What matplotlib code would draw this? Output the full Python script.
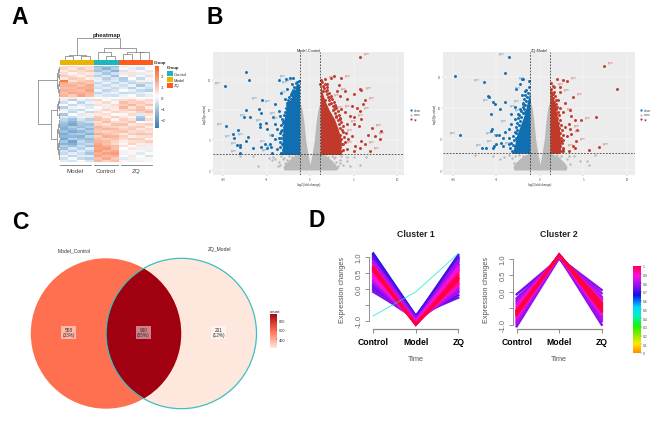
#!/usr/bin/env python
"""Four panel figure: heatmap, two volcano plots, venn diagram and expression clusters."""

import matplotlib

matplotlib.use("Agg")
import matplotlib.pyplot as plt
import numpy as np
from matplotlib.colors import LinearSegmentedColormap, Normalize
from matplotlib.patches import Circle, Rectangle

W, H = 669, 431

# panel A
GROUPS = ["Model", "Control", "ZQ"]
GROUP_SIZES = [4, 3, 4]
GROUP_COLORS = ["#E8B400", "#1FB5BE", "#FF5A1E"]
HEAT_TICKS = [2, 1, 0, -1, -2]
HEAT = [
    [0.5, 0.8, 0.3, 0.6, -1.4, -1.0, -1.3, -0.3, 0.2, -0.2, 0.1],
    [0.7, 0.4, 0.9, 0.5, -1.0, -1.5, -0.9, 0.2, -0.3, -0.6, 0.0],
    [0.3, 0.7, 0.6, 0.9, -1.2, -0.8, -1.5, -0.5, 0.3, 0.1, -0.4],
    [0.6, 0.2, 0.5, 0.4, -0.5, -1.1, -0.6, 0.4, 0.5, -0.3, 0.3],
    [0.9, 0.6, 0.2, 0.7, -0.9, -0.4, -1.2, -0.1, -0.4, 0.2, -0.5],
    [0.4, 0.9, 0.7, 0.3, -0.3, -0.9, -0.5, -1.0, 0.1, -0.7, 0.2],
    [2.3, 0.5, 0.8, 1.0, -0.2, -0.6, -0.4, -0.9, -0.5, 0.3, -0.2],
    [1.4, 1.0, 1.2, 0.9, -0.7, -0.2, -0.8, -0.3, -0.8, -0.6, -0.7],
    [1.2, 1.3, 1.0, 1.4, -0.4, -0.7, -0.3, -0.6, -0.2, -1.1, -0.4],
    [1.1, 1.1, 1.4, 1.3, -0.6, -0.3, -0.7, -0.4, -0.9, -0.2, -0.6],
    [1.3, 1.2, 1.1, 1.5, -0.2, -0.8, -0.5, 0.1, -0.3, -0.7, -0.9],
    [1.0, 1.4, 1.3, 1.2, -0.8, -0.4, -0.2, -0.7, -0.6, -0.4, -0.1],
    [1.2, 0.9, 1.5, 1.1, -0.3, -0.5, -0.6, -0.2, 0.1, -0.5, -0.3],
    [0.3, 0.4, 0.1, 0.2, 0.0, 0.2, 0.1, -0.1, 0.2, 0.0, 0.1],
    [-0.3, -0.9, -0.2, -0.5, 0.7, 0.1, -0.4, 0.6, 0.8, 0.4, 0.7],
    [-0.6, 0.1, -0.8, -0.2, 0.3, 0.6, 0.2, 1.1, 0.7, 0.9, 0.5],
    [0.1, -0.7, -0.3, -0.6, 0.5, -0.2, 0.6, 0.9, 1.2, 0.6, 1.0],
    [-0.9, -0.2, 0.2, -0.4, 0.1, 0.4, 0.4, 1.2, 0.5, 1.0, 0.3],
    [-0.2, -0.5, -0.7, 0.1, -0.2, 0.7, 0.3, 0.7, 0.9, 1.1, 0.8],
    [0.2, -0.8, -0.1, -0.7, 0.6, 0.2, 0.7, 0.5, 0.3, 0.8, 1.2],
    [-1.1, 0.0, -0.4, 0.3, 0.4, 0.5, 0.0, 0.2, 0.6, -0.4, 0.5],
    [-0.4, -0.6, 0.3, -0.3, 0.9, 0.3, 0.8, 0.4, -0.1, -1.0, 0.2],
    [-0.8, -1.2, -0.5, -0.9, 1.0, 0.8, 0.2, 0.8, 0.5, -1.3, 0.6],
    [-1.0, -1.5, -0.9, -0.6, 0.5, 1.1, 0.6, 0.6, 1.0, 0.1, 0.2],
    [-1.3, -1.8, -1.1, -1.2, 0.7, 0.5, 1.0, 1.0, 0.4, 0.6, 0.8],
    [-1.5, -1.0, -1.3, -0.9, 1.2, 0.9, 0.7, 0.5, 0.8, 0.9, 0.3],
    [-1.6, -1.3, -0.8, -1.4, 1.0, 1.2, 1.1, 0.7, 0.9, 0.4, 0.7],
    [-1.2, -1.7, -1.4, -1.0, 0.9, 0.7, 0.9, 1.0, 0.6, 0.7, 0.5],
    [-1.7, -1.1, -1.0, -1.5, 1.3, 1.0, 0.8, 0.4, 0.8, 1.0, 0.9],
    [-1.4, -1.4, -1.5, -0.8, 0.8, 1.3, 1.2, 0.8, 0.3, 0.5, 0.6],
    [-1.8, -0.9, -1.2, -1.3, 1.1, 0.8, 1.0, 0.6, 0.9, 0.8, 0.2],
    [-1.1, -1.9, -0.7, -1.1, 1.2, 1.1, 0.7, 0.3, 0.5, 0.6, 0.8],
    [-1.5, -1.6, -1.0, -0.7, 1.4, 1.0, 0.6, 0.2, 0.7, 0.3, 0.4],
    [-0.9, -1.2, -0.6, -1.2, 1.6, 1.3, 1.1, 0.5, 0.1, 0.4, -0.2],
    [-1.2, -0.5, -0.9, -0.4, 1.5, 1.6, 1.0, 0.0, 0.4, -0.2, 0.3],
    [-0.5, -1.0, -0.3, -0.8, 1.7, 1.2, 1.4, 0.3, -0.1, 0.2, -0.3],
    [-0.7, -0.3, -0.6, -1.1, 1.3, 1.5, 1.6, -0.2, 0.2, -0.4, 0.1],
    [-0.2, -0.8, -0.4, -0.3, 1.5, 1.1, 1.3, 0.1, -0.3, 0.0, -0.5],
    [-0.6, -0.1, -0.7, -0.9, 1.0, 1.4, 0.9, -0.4, 0.3, -0.1, 0.2],
    [-0.3, -0.5, 0.1, -0.5, 1.2, 0.8, 1.1, 0.2, -0.2, 0.3, -0.1],
]
# (left, right, left height, right height, top height) in column units
COL_TREE = [
    (0.5, 1.5, 0, 0, 10), (2.5, 3.5, 0, 0, 11), (1.0, 3.0, 10, 11, 15),
    (5.5, 6.5, 0, 0, 12), (4.5, 6.0, 0, 12, 22),
    (7.5, 8.5, 0, 0, 18), (9.5, 10.5, 0, 0, 22), (8.0, 10.0, 18, 22, 24),
    (5.25, 9.0, 22, 24, 34), (2.0, 7.125, 15, 34, 65),
]
# same idea in row units, heights grow to the left
ROW_TREE = [
    (0.5, 2.5, 2, 2, 5), (3.5, 5.5, 2, 2, 4), (1.5, 4.5, 5, 4, 7), (6.5, 8.5, 2, 2, 4),
    (9.5, 12.5, 2, 2, 4), (7.5, 11.0, 4, 4, 6), (3.0, 9.25, 7, 6, 9),
    (13.5, 15.5, 2, 2, 5), (16.5, 18.5, 2, 2, 4), (14.5, 17.5, 5, 4, 7),
    (19.5, 21.5, 2, 2, 5), (16.0, 20.5, 7, 5, 10),
    (22.5, 25.5, 2, 2, 5), (26.5, 29.5, 2, 2, 5), (24.0, 28.0, 5, 5, 7),
    (30.5, 33.5, 2, 2, 4), (34.5, 38.5, 2, 2, 4), (32.0, 36.5, 4, 4, 7),
    (26.0, 34.25, 7, 7, 11), (18.25, 30.1, 10, 11, 26),
    (6.1, 24.2, 9, 26, 66),
]

# panel B, left volcano
BLUE1_X = [-9.8, -7.4, -7.0, -9.6, -8.3, -8.9, -8.7, -7.4, -7.6, -6.9, -5.9, -5.6, -5.5, -5.8, -5.8, -5.1, -4.9, -4.4, -7.1, -7.4, -8.4, -8.0, -8.1, -6.6, -8.0, -5.6, -5.2, -4.6, -4.5, -5.0, -4.4, -3.6, -2.8, -2.3, -3.3, -2.9, -4.0, -3.6, -4.2, -3.5, -4.0, -3.8, -3.6, -4.0, -3.5, -3.8, -3.3, -2.7, -2.1, -1.9, -2.5, -3.1, -3.3, -2.9, -2.2, -1.8, -2.4, -1.5]
BLUE1_Y = [14.0, 16.4, 15.0, 7.3, 6.7, 6.0, 5.3, 10.0, 8.8, 8.8, 10.1, 9.5, 11.6, 7.7, 7.1, 7.9, 6.8, 5.8, 5.5, 4.9, 4.2, 4.1, 3.8, 3.7, 2.8, 3.9, 4.4, 4.4, 3.8, 3.7, 2.9, 15.0, 15.2, 15.3, 12.9, 11.8, 11.0, 9.9, 8.8, 9.0, 7.7, 6.8, 5.4, 5.1, 4.6, 3.5, 2.9, 13.5, 14.3, 15.4, 10.7, 8.2, 6.5, 4.3, 12.6, 13.2, 11.4, 14.6]
BLUE1_FILL_X = [-3.3, -3.1, -3.4, -3.2, -3.0, -3.3, -3.1, -3.4, -3.2, -3.0, -3.3, -3.1, -2.9, -3.2, -2.8, -3.0, -2.7, -2.9, -2.6, -2.8, -2.5, -2.7, -2.4, -2.6, -2.3, -2.5, -2.2, -2.4, -2.0, -2.2, -1.9, -2.1, -1.7, -1.9, -1.6, -1.8, -1.5, -1.4, -1.6, -1.3]
BLUE1_FILL_Y = [2.9, 3.4, 3.9, 4.4, 4.9, 5.3, 5.8, 6.2, 6.7, 7.1, 7.5, 7.9, 8.2, 8.5, 8.8, 9.1, 9.4, 9.7, 10.0, 10.3, 10.5, 10.8, 11.0, 11.2, 11.4, 11.7, 11.9, 12.1, 12.3, 12.5, 12.8, 13.0, 13.2, 13.4, 13.6, 13.8, 14.0, 14.2, 14.5, 14.8]
RED1_X = [5.7, 2.8, 2.4, 1.7, 1.2, 2.0, 3.6, 3.3, 1.5, 3.1, 4.0, 5.7, 5.9, 5.0, 3.4, 2.3, 1.7, 4.2, 6.3, 6.1, 2.9, 3.6, 4.8, 5.4, 5.7, 4.0, 4.6, 5.0, 5.9, 3.4, 4.2, 5.0, 5.6, 7.1, 8.1, 6.7, 7.5, 8.0, 5.9, 6.3, 4.8, 4.4, 3.8, 5.2, 5.7, 6.9, 5.0, 4.2, 3.8, 3.6, 3.3, 2.6, 2.2, 3.0]
RED1_Y = [18.9, 15.7, 15.3, 15.1, 14.4, 14.4, 15.3, 14.1, 13.2, 13.1, 13.1, 13.5, 13.3, 12.7, 12.4, 12.1, 11.6, 11.8, 11.6, 11.0, 10.7, 10.2, 10.6, 10.4, 9.9, 9.6, 9.0, 8.8, 8.5, 8.5, 7.7, 7.7, 7.4, 7.0, 6.5, 5.9, 5.7, 5.2, 4.8, 4.3, 5.7, 5.2, 6.3, 4.0, 3.6, 3.2, 3.2, 3.5, 4.3, 3.2, 2.9, 10.0, 11.0, 9.0]
RED1_FILL_X = [3.5, 3.8, 3.4, 3.7, 4.0, 3.6, 3.9, 3.5, 4.1, 3.7, 3.4, 3.8, 3.3, 3.6, 3.2, 3.5, 3.0, 3.3, 2.9, 3.2, 2.7, 3.0, 2.6, 2.9, 2.4, 2.7, 2.2, 2.5, 2.1, 2.4, 1.9, 2.2, 1.8, 2.0, 1.6, 1.9, 1.5, 1.7, 1.4, 1.3]
RED1_FILL_Y = [2.9, 3.4, 3.8, 4.3, 4.7, 5.1, 5.5, 5.9, 6.2, 6.6, 7.0, 7.3, 7.7, 8.0, 8.3, 8.6, 8.9, 9.2, 9.5, 9.8, 10.1, 10.4, 10.7, 10.9, 11.2, 11.4, 11.7, 11.9, 12.2, 12.4, 12.7, 12.9, 13.1, 13.4, 13.6, 13.8, 14.0, 14.3, 14.6, 15.0]
GRAY1_X = [-8.0, -6.5, -6.0, -4.7, -4.4, -4.0, -3.6, -3.4, -3.1, -2.8, -4.3, -3.3, -2.9, 2.7, 3.0, 3.4, 3.8, 4.2, 4.6, 5.1, 5.8, 6.4, 3.1, 3.6, 4.3, -3.0, -2.6, -3.7, -2.4, 2.9, 3.2, 3.5, 2.5, -1.7, -2.1, 1.7, 2.1]
GRAY1_Y = [2.3, 2.4, 0.7, 2.0, 1.6, 1.9, 1.4, 0.9, 1.8, 0.6, 2.2, 2.3, 1.2, 2.0, 1.3, 1.7, 0.9, 1.5, 0.6, 2.1, 0.8, 2.2, 0.4, 2.3, 2.2, 2.0, 1.7, 0.6, 2.3, 2.2, 0.7, 1.1, 2.3, 2.4, 2.1, 2.4, 2.2]
DENSE1_Y = [2.6, 5.0, 7.0, 8.5, 10.0, 11.6, 13.0, 14.2]
BLUE1_EDGE = [-3.2, -3.2, -3.1, -3.0, -2.7, -2.3, -1.8, -1.4]
RED1_EDGE = [3.5, 3.6, 3.2, 2.8, 2.2, 1.7, 1.4, 1.25]

# panel B, right volcano
BLUE2_X = [-3.6, -9.7, -4.0, -6.4, -6.0, -5.8, -5.4, -5.2, -5.6, -9.2, -5.5, -5.6, -5.1, -4.7, -6.7, -6.2, -5.3, -5.4, -5.0, -4.5, -4.3, -4.2, -4.0, -3.6, -3.3, -3.5, -3.6, -2.9, -2.9, -3.3, -2.3, -2.1, -1.9, -1.3, -2.3, -2.7, -1.7, -2.1, -1.3, -1.9, -2.5, -2.9, -1.7, -4.6, -4.0]
BLUE2_Y = [18.2, 15.2, 15.7, 14.1, 11.9, 11.7, 10.9, 10.6, 9.0, 5.6, 6.6, 6.3, 5.6, 5.6, 3.5, 3.6, 3.9, 3.5, 4.2, 4.4, 3.8, 5.2, 6.2, 6.6, 7.4, 5.2, 4.2, 3.9, 10.1, 9.0, 9.9, 14.7, 14.6, 14.4, 13.8, 13.0, 12.8, 12.0, 11.1, 10.6, 9.0, 8.2, 9.3, 9.8, 10.9]
BLUE2_FILL_X = [-3.2, -3.4, -3.1, -3.3, -3.0, -2.8, -3.1, -2.7, -2.9, -2.6, -2.8, -2.4, -2.6, -2.3, -2.5, -2.2, -2.4, -2.0, -2.2, -1.8, -2.0, -1.7, -1.9, -1.6, -1.8, -1.5, -1.7, -1.4, -1.6, -1.3]
BLUE2_FILL_Y = [3.0, 3.5, 4.0, 4.4, 4.8, 5.2, 5.5, 5.9, 6.2, 6.5, 6.9, 7.2, 7.6, 7.9, 8.3, 8.6, 8.9, 9.2, 9.5, 9.9, 10.2, 10.4, 10.8, 11.1, 11.4, 11.7, 12.0, 12.4, 12.9, 13.4]
RED2_X = [7.3, 8.9, 6.4, 6.8, 5.6, 2.6, 3.1, 2.0, 2.3, 3.8, 2.9, 3.4, 4.7, 4.0, 3.6, 4.1, 3.8, 4.0, 3.6, 3.1, 4.2, 3.4, 2.9, 3.3, 2.7, 3.3, 2.7, 2.3, 1.5, 2.4, 1.6, 1.3, 2.1, 2.6, 2.3]
RED2_Y = [16.8, 13.1, 8.5, 3.7, 3.3, 14.5, 14.3, 14.7, 13.3, 11.8, 10.8, 9.7, 8.0, 8.1, 8.7, 4.6, 3.8, 3.5, 5.8, 5.5, 6.4, 6.6, 6.9, 7.4, 3.6, 3.1, 3.1, 12.5, 12.3, 4.7, 13.4, 12.6, 11.2, 9.4, 10.0]
RED2_FILL_X = [2.4, 2.6, 2.3, 2.5, 2.7, 2.4, 2.6, 2.3, 2.5, 2.2, 2.4, 2.1, 2.3, 2.0, 2.2, 1.9, 2.1, 1.8, 2.0, 1.7, 1.9, 1.6, 1.8, 1.5, 1.7, 1.4, 1.6, 1.3, 1.5, 1.3]
RED2_FILL_Y = [3.0, 3.4, 3.9, 4.3, 4.8, 5.2, 5.6, 6.0, 6.4, 6.8, 7.2, 7.6, 8.0, 8.4, 8.8, 9.1, 9.4, 9.8, 10.1, 10.4, 10.7, 11.0, 11.3, 11.6, 11.9, 12.2, 12.6, 13.0, 13.5, 14.0]
GRAY2_X = [-7.5, -5.4, -4.6, -3.6, -3.0, -2.6, -2.2, -4.1, -3.2, 2.2, 2.7, 3.1, 3.5, 3.9, 4.6, 5.4, 5.6, 6.3, 2.6, 3.3, -2.9, -2.4, -1.9, 2.0, 2.4, 2.9, 1.8]
GRAY2_Y = [2.4, 2.3, 1.7, 2.4, 1.1, 0.8, 1.6, 2.1, 1.9, 2.0, 1.2, 1.8, 0.9, 2.2, 1.4, 1.5, 0.8, 2.4, 0.5, 2.3, 2.2, 2.4, 2.2, 2.4, 2.2, 0.6, 2.1]
DENSE2_Y = [2.7, 4.0, 5.5, 7.0, 8.5, 10.0, 11.2, 12.4]
BLUE2_EDGE = [-3.2, -2.9, -2.7, -2.3, -1.9, -1.6, -1.4, -1.2]
RED2_EDGE = [2.3, 2.4, 2.3, 2.2, 2.0, 1.8, 1.6, 1.35]

# gray cloud, shared shape values
GRAY_LOW_Y = [0.0, 0.5, 1.0, 1.6, 2.2, 2.7]
GRAY_LOW_EDGE = [3.0, 3.1, 2.9, 2.5, 2.0, 1.3]
GAP_Y = [0.9, 2.7, 5.0, 8.0, 10.0, 11.2]
GAP_EDGE = [0.0, 0.25, 0.5, 0.7, 0.9, 1.15]
VOLCANO_LEGEND = ["down", "none", "up"]
VOLCANO_COLORS = ["#0F6FB0", "#B9B9B9", "#C0392B"]

# panel C
SET_NAMES = ["Model_Control", "ZQ_Model"]
VENN_COUNTS = [558, 930, 201]
VENN_PCT = ["33%", "55%", "12%"]
COUNT_TICKS = [800, 600, 400]

# panel D
TIME = ["Control", "Model", "ZQ"]
C1_CONTROL = [1.10, 1.07, 1.04, 1.0, 0.97, 0.93, 0.90, 0.1, 0.06, 0.02, -0.02, -0.06, -0.1, 0.22, 0.18, 0.14, 0.86, 0.82, 0.78, 0.74, 0.26, 0.3, 0.34, 0.38, 0.42, 0.46, 0.7, 0.66, 0.5, 0.54, 0.62, 0.58, 0.56, 0.6, 0.64, 0.68]
C1_MODEL = [-0.85, -0.88, -0.86, -0.9, -0.92, -0.95, -0.9, -0.88, -0.9, -0.92, -0.85, -0.95, -0.9, -0.98, -1.0, -1.0, -0.95, -1.0, -1.02, -1.0, -1.05, -1.03, -1.05, -1.07, -1.05, -1.08, -1.08, -1.1, -1.08, -1.1, -1.12, -1.12, -1.1, -1.13, -1.1, -1.12]
C1_ZQ = [0.85, 1.05, 0.6, 0.95, 0.7, 1.0, 0.9, 0.95, 0.75, -0.2, -0.28, 0.0, -0.12, 0.8, -0.1, 0.9, 0.6, 0.75, -0.05, 0.65, 0.05, 0.7, 0.1, 0.55, 0.15, 0.6, 0.55, 0.15, 0.5, 0.2, 0.45, 0.25, 0.35, 0.4, 0.3, 0.32]
C1_MEMBER = [0.66, 0.68, 0.70, 0.70, 0.72, 0.72, 0.74, 0.70, 0.72, 0.72, 0.74, 0.74, 0.76, 0.76, 0.78, 0.78, 0.80, 0.80, 0.80, 0.82, 0.84, 0.85, 0.86, 0.87, 0.88, 0.88, 0.89, 0.90, 0.92, 0.94, 0.96, 0.97, 0.98, 0.99, 1.0, 1.0]
C1_OUTLIER = [-0.85, -0.1, 1.1]
C1_OUTLIER_MEMBER = 0.45

C2_CONTROL = [-0.08, -0.2, -1.05, -1.0, -0.95, -0.25, -0.3, -0.92, -0.88, -0.35, -0.85, -0.4, -0.8, -0.45, -0.78, -0.5, -0.75, -0.72, -0.55, -0.7, -0.58, -0.68, -0.6, -0.65, -0.62, -0.66, -0.6, -0.56, -0.7]
C2_MODEL = [1.0, 1.02, 1.02, 1.05, 1.03, 1.05, 1.04, 1.06, 1.05, 1.07, 1.06, 1.08, 1.08, 1.08, 1.09, 1.09, 1.1, 1.1, 1.1, 1.1, 1.11, 1.11, 1.12, 1.12, 1.12, 1.1, 1.11, 1.1, 1.12]
C2_ZQ = [-0.2, 0.05, -0.75, -1.0, -0.85, -0.05, -0.9, -0.15, -0.8, -0.75, -0.22, -0.7, -0.25, -0.65, -0.3, -0.62, -0.58, -0.35, -0.55, -0.4, -0.52, -0.42, -0.5, -0.44, -0.47, -0.6, -0.38, -0.56, -0.34]
C2_MEMBER = [0.74, 0.76, 0.76, 0.76, 0.78, 0.78, 0.78, 0.80, 0.80, 0.82, 0.82, 0.84, 0.84, 0.86, 0.86, 0.88, 0.90, 0.90, 0.92, 0.94, 0.95, 0.96, 0.98, 0.99, 1.0, 1.0, 1.0, 1.0, 1.0]
MEMBER_TICKS = [1, 0.9, 0.8, 0.7, 0.6, 0.5, 0.4, 0.3, 0.2, 0.1, 0]

plt.rcParams["font.family"] = ["Liberation Sans", "DejaVu Sans"]
plt.rcParams["axes.linewidth"] = 0.5

HEAT_CMAP = LinearSegmentedColormap.from_list("heat", ["#3D7DB5", "#8FB8DA", "#FFFFFF", "#F9A688", "#FF5A1E"])
VENN_CMAP = LinearSegmentedColormap.from_list("venn", [(0, "#FEE8DE"), (0.49, "#FF7050"), (1, "#A00010")])
MEMBER_CMAP = LinearSegmentedColormap.from_list(
    "member",
    [(0, "#FF8C00"), (0.1, "#FFE800"), (0.3, "#22F000"), (0.42, "#00F0C0"), (0.52, "#00D8FF"),
     (0.66, "#1010E8"), (0.76, "#8A10F0"), (0.88, "#FF10E0"), (1, "#FF0040")],
)


def px_axes(fig, x0, y0, x1, y1):
    return fig.add_axes([x0 / W, 1 - y1 / H, (x1 - x0) / W, (y1 - y0) / H])


def draw_tree(axis, merges, vertical, color="#777777", lw=0.5):
    for left, right, h_left, h_right, top in merges:
        pos = [left, left, right, right]
        height = [h_left, top, top, h_right]
        if vertical:
            axis.plot(pos, height, color=color, lw=lw, solid_capstyle="butt")
        else:
            axis.plot(height, pos, color=color, lw=lw, solid_capstyle="butt")


def plot_heatmap(fig):
    data = np.array(HEAT)
    n_rows, n_cols = data.shape
    ax = px_axes(fig, 60.3, 66.7, 152.7, 163.5)
    ax.imshow(data, cmap=HEAT_CMAP, vmin=-2.85, vmax=2.9, aspect="auto", interpolation="nearest",
              extent=(0, n_cols, n_rows, 0))
    ax.axis("off")

    bar = px_axes(fig, 60.3, 61, 152.7, 65.6)
    start = 0
    bar.set_xlim(0, n_cols)
    bar.set_ylim(0, 1)
    for size, color in zip(GROUP_SIZES, GROUP_COLORS):
        bar.add_patch(Rectangle((start, 0), size, 1, color=color, lw=0))
        start += size
    bar.axis("off")

    top = px_axes(fig, 60.3, 38.5, 152.7, 60.5)
    draw_tree(top, COL_TREE, True)
    top.set_xlim(0, n_cols)
    top.set_ylim(0, 66)
    top.axis("off")

    side = px_axes(fig, 37.5, 66.7, 60.3, 163.5)
    draw_tree(side, ROW_TREE, False)
    for row in range(n_rows):
        side.plot([0, 2], [row + 0.5, row + 0.5], color="#444444", lw=0.5)
    side.set_xlim(67, 0)
    side.set_ylim(n_rows, 0)
    side.axis("off")

    cbar = px_axes(fig, 155, 66.7, 158.7, 129.3)
    gradient = np.linspace(2.9, -2.85, 128).reshape(-1, 1)
    cbar.imshow(gradient, cmap=HEAT_CMAP, vmin=-2.85, vmax=2.9, aspect="auto", extent=(0, 1, -2.85, 2.9))
    cbar.set_xticks([])
    cbar.yaxis.tick_right()
    cbar.set_yticks(HEAT_TICKS, [str(t).replace("-", "\u2212") for t in HEAT_TICKS])
    cbar.tick_params(length=0, labelsize=3.2, pad=1.5, labelcolor="#333333")
    for spine in cbar.spines.values():
        spine.set_visible(False)


def plot_volcano(fig, box, title, blue, red, blue_fill, red_fill, gray, dense_y, edges, thresh, vline, xlim, ylim):
    ax = px_axes(fig, *box)
    ax.set_facecolor("#ECECEC")
    ax.set_xlim(*xlim)
    ax.set_ylim(*ylim)
    ax.grid(color="white", lw=0.3)
    ax.set_axisbelow(True)

    # gray cloud first, the coloured sets sit on top of it
    gray_color, blue_color, red_color = VOLCANO_COLORS[1], VOLCANO_COLORS[0], VOLCANO_COLORS[2]
    low_y = np.array(GRAY_LOW_Y)
    low_x = np.array(GRAY_LOW_EDGE)
    ax.fill_betweenx(low_y, -low_x, low_x, color=gray_color, lw=0)
    gap_x = np.array(GAP_EDGE)
    ax.fill_betweenx(GAP_Y, -vline, -gap_x, color=gray_color, lw=0)
    ax.fill_betweenx(GAP_Y, gap_x, vline, color=gray_color, lw=0)
    ax.fill_betweenx(GAP_Y[:2], -gap_x[:2], gap_x[:2], color="#ECECEC", lw=0)
    ax.scatter(gray[0], gray[1], s=3, color=gray_color, lw=0)

    ax.fill_betweenx(dense_y, edges[0], -vline, color=blue_color, lw=0)
    ax.fill_betweenx(dense_y, vline, edges[1], color=red_color, lw=0)
    ax.scatter(blue_fill[0], blue_fill[1], s=4.5, color=blue_color, lw=0)
    ax.scatter(red_fill[0], red_fill[1], s=4.5, color=red_color, lw=0)
    ax.scatter(blue[0], blue[1], s=4.5, color=blue_color, lw=0)
    ax.scatter(red[0], red[1], s=4.5, color=red_color, lw=0)

    # tiny gene tags, unreadable in the reference
    for x, y in list(zip(blue[0], blue[1]))[::3]:
        ax.annotate("gene", (x, y), xytext=(x - 0.8, y + 0.6), fontsize=1.9, color="#5A9BC8",
                    ha="center", va="center",
                    arrowprops=dict(arrowstyle="-", color="#999999", lw=0.2))
    for x, y in list(zip(red[0], red[1]))[::3]:
        ax.annotate("gene", (x, y), xytext=(x + 0.8, y + 0.6), fontsize=1.9, color="#D0705F",
                    ha="center", va="center",
                    arrowprops=dict(arrowstyle="-", color="#999999", lw=0.2))

    ax.axhline(thresh, color="#222222", ls=(0, (2.5, 2)), lw=0.5)
    ax.axvline(-vline, color="#222222", ls=(0, (2.5, 2)), lw=0.5)
    ax.axvline(vline, color="#222222", ls=(0, (2.5, 2)), lw=0.5)
    ax.set_xticks([-10, -5, 0, 5, 10])
    ax.set_yticks([0, 5, 10, 15])
    ax.tick_params(length=0.8, width=0.25, labelsize=2, pad=0.8, color="#666666", labelcolor="#555555")
    for spine in ax.spines.values():
        spine.set_visible(False)
    ax.set_title(title, fontsize=2.8, pad=0.8, color="#222222")
    ax.set_xlabel("log2(fold change)", fontsize=2.2, labelpad=0.6, color="#333333")
    ax.set_ylabel("-log10(p-value)", fontsize=2.2, labelpad=0.6, color="#333333")
    return ax


def plot_venn(fig):
    ax = px_axes(fig, 25, 250, 265, 420)
    ax.set_xlim(25, 265)
    ax.set_ylim(420, 250)
    ax.axis("off")
    norm = Normalize(min(VENN_COUNTS), max(VENN_COUNTS))
    only_left, both, only_right = [VENN_CMAP(norm(c)) for c in VENN_COUNTS]
    left = Circle((106, 334.5), 75.2, color=only_left, lw=0)
    right = Circle((181.3, 334.5), 75.2, color=only_right, lw=0)
    ax.add_patch(right)
    ax.add_patch(left)
    overlap = Circle((106, 334.5), 75.2, color=both, lw=0)
    ax.add_patch(overlap)
    overlap.set_clip_path(Circle((181.3, 334.5), 75.2, transform=ax.transData))
    ax.add_patch(Circle((181.3, 334.5), 75.2, fill=False, edgecolor="#3CBFBF", lw=0.9))

    for x, count, pct in zip([68.7, 143.3, 218.7], VENN_COUNTS, VENN_PCT):
        ax.text(x, 333.5, f"{count}\n({pct})", fontsize=3.4, ha="center", va="center", color="#333333",
                linespacing=1.0, bbox=dict(boxstyle="square,pad=0.3", fc="white", ec="none", alpha=0.5))
    ax.text(74.5, 250.7, SET_NAMES[0], fontsize=3.6, ha="center", va="center", color="#333333", clip_on=False)
    ax.text(220, 250, SET_NAMES[1], fontsize=3.6, ha="center", va="center", color="#333333", clip_on=False)

    cbar = px_axes(fig, 269.7, 315, 276.7, 349.5)
    gradient = np.linspace(max(VENN_COUNTS), min(VENN_COUNTS), 128).reshape(-1, 1)
    cbar.imshow(gradient, cmap=VENN_CMAP, norm=norm, aspect="auto",
                extent=(0, 1, min(VENN_COUNTS), max(VENN_COUNTS)))
    cbar.set_xticks([])
    cbar.yaxis.tick_right()
    cbar.set_yticks(COUNT_TICKS)
    cbar.tick_params(length=0.8, width=0.25, direction="in", labelsize=2.8, pad=1.5, labelcolor="#333333")
    for spine in cbar.spines.values():
        spine.set_visible(False)
    cbar.set_title("count", fontsize=3.2, pad=1.5, loc="left", color="#222222")


def plot_cluster(fig, box, title, control, model, zq, member, ylim, outlier=None, outlier_member=None):
    ax = px_axes(fig, *box)
    ax.set_xlim(1, 3)
    ax.set_ylim(*ylim)
    for c, m, z, value in zip(control, model, zq, member):
        ax.plot([1, 2, 3], [c, m, z], color=MEMBER_CMAP(value), lw=1.7, clip_on=False,
                solid_joinstyle="miter")
    if outlier is not None:
        ax.plot([1, 2, 3], outlier, color=MEMBER_CMAP(outlier_member), lw=0.7, alpha=0.7, clip_on=False)
    for name in ["top", "right"]:
        ax.spines[name].set_visible(False)
    ax.spines["left"].set_bounds(-1, 1)
    ax.spines["left"].set_position(("outward", 3))
    ax.spines["bottom"].set_bounds(1, 3)
    ax.spines["bottom"].set_linewidth(0.9)
    ax.spines["left"].set_linewidth(0.5)
    ax.spines["left"].set_color("#666666")
    ax.spines["bottom"].set_color("#8A8A8A")
    ax.set_xticks([1, 2, 3], TIME, fontsize=6.2, fontweight="bold")
    ax.set_yticks([-1, -0.5, 0, 0.5, 1], ["-1.0", "", "0.0", "0.5", "1.0"], rotation=90, va="center")
    ax.tick_params(axis="x", length=3, width=0.7, color="#8A8A8A", pad=3)
    ax.tick_params(axis="y", length=3, width=0.5, color="#666666", labelsize=5.4, labelcolor="#666666", pad=1.5)
    ax.set_xlabel("Time", fontsize=5.3, color="#555555", labelpad=6)
    ax.set_ylabel("Expression changes", fontsize=5.3, color="#555555", labelpad=7)
    ax.set_title(title, fontsize=6.3, fontweight="bold", color="#222222", pad=9)


def plot_member_bar(fig):
    cbar = px_axes(fig, 633.3, 266.7, 640.7, 354)
    gradient = np.linspace(1, 0, 200).reshape(-1, 1)
    cbar.imshow(gradient, cmap=MEMBER_CMAP, vmin=0, vmax=1, aspect="auto", extent=(0, 1, 0, 1))
    cbar.set_xticks([])
    cbar.yaxis.tick_right()
    cbar.set_yticks(MEMBER_TICKS, [str(t) for t in MEMBER_TICKS])
    cbar.tick_params(length=0.8, width=0.25, labelsize=2.4, pad=1, labelcolor="#444444")
    for spine in cbar.spines.values():
        spine.set_visible(False)


def main():
    fig = plt.figure(figsize=(W / 100, H / 100), dpi=100, facecolor="white")

    plot_heatmap(fig)
    plot_volcano(fig, (213, 52.7, 404, 176), "Model-Control", (BLUE1_X, BLUE1_Y), (RED1_X, RED1_Y),
                 (BLUE1_FILL_X, BLUE1_FILL_Y), (RED1_FILL_X, RED1_FILL_Y),
                 (GRAY1_X, GRAY1_Y), DENSE1_Y, (BLUE1_EDGE, RED1_EDGE), 2.6, 1.2, (-11.15, 10.8), (-0.83, 19.7))
    plot_volcano(fig, (443.3, 52.7, 635.3, 176), "ZQ-Model", (BLUE2_X, BLUE2_Y), (RED2_X, RED2_Y),
                 (BLUE2_FILL_X, BLUE2_FILL_Y), (RED2_FILL_X, RED2_FILL_Y),
                 (GRAY2_X, GRAY2_Y), DENSE2_Y, (BLUE2_EDGE, RED2_EDGE), 2.7, 1.15, (-11.1, 10.95), (-0.8, 19.05))
    plot_venn(fig)
    plot_cluster(fig, (373.3, 250, 458.3, 330), "Cluster 1", C1_CONTROL, C1_MODEL, C1_ZQ, C1_MEMBER,
                 (-1.26, 1.24), C1_OUTLIER, C1_OUTLIER_MEMBER)
    plot_cluster(fig, (516.7, 250, 601.7, 330), "Cluster 2", C2_CONTROL, C2_MODEL, C2_ZQ, C2_MEMBER, (-1.13, 1.29))
    plot_member_bar(fig)

    # page level overlay in pixels for letters and legends
    page = fig.add_axes([0, 0, 1, 1], zorder=10)
    page.set_xlim(0, W)
    page.set_ylim(H, 0)
    page.axis("off")
    for letter, x, y in [("A", 11, 17), ("B", 206, 17), ("C", 12, 223), ("D", 308, 221)]:
        page.text(x, y, letter, fontsize=16.5, fontweight="bold", va="center", color="black")

    page.text(106.5, 35, "pheatmap", fontsize=4.3, fontweight="bold", ha="center", va="center", color="#222222")
    page.text(154, 63, "Group", fontsize=3, fontweight="bold", va="center", color="#222222")
    page.text(166.7, 68, "Group", fontsize=3, fontweight="bold", va="center", color="#222222")
    legend_order = [1, 0, 2]
    for i, idx in enumerate(legend_order):
        y = 72 + i * 5.8
        page.add_patch(Rectangle((166.7, y), 6, 5.4, color=GROUP_COLORS[idx], lw=0))
        page.text(174, y + 2.7, GROUPS[idx], fontsize=3, va="center", color="#333333")
    for (x0, x1), name in zip([(60, 90.7), (94, 117.7), (121, 151.7)], GROUPS):
        page.plot([x0, x1], [165.7, 165.7], color="#777777", lw=0.6)
        page.text((x0 + x1) / 2, 171.7, name, fontsize=4.5, ha="center", va="center", color="#444444")

    for x in [410.7, 641]:
        for i, (name, color) in enumerate(zip(VOLCANO_LEGEND, VOLCANO_COLORS)):
            y = 111 + i * 4.5
            page.scatter([x], [y], s=2.5, color=color, lw=0)
            page.text(x + 3, y, name, fontsize=2.2, va="center", color="#444444")

    fig.savefig("out.png", dpi=100)
    plt.close(fig)


if __name__ == "__main__":
    main()
